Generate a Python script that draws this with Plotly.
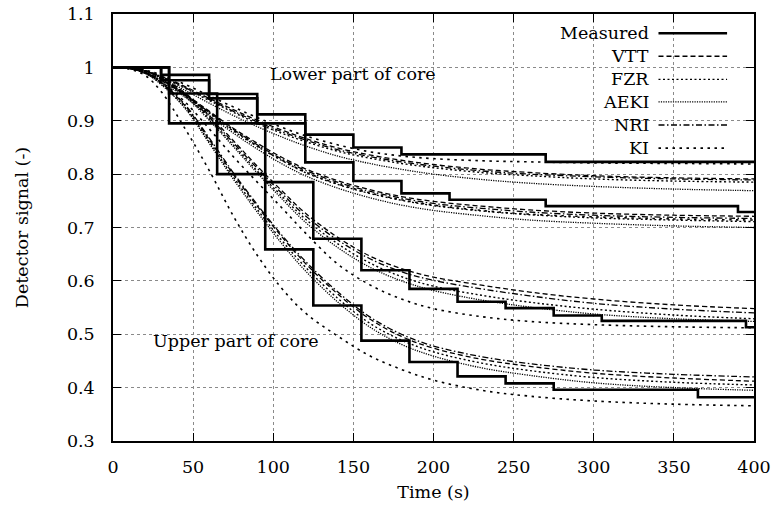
import plotly.graph_objects as go

# ---------------- data ----------------
# measured staircases (step start times, held values)
L1_t = [0, 30, 60, 90, 120, 150, 180, 270, 400]
L1_v = [1.0, 0.986, 0.95, 0.912, 0.874, 0.85, 0.837, 0.823, 0.823]
L2_t = [0, 30, 60, 90, 120, 150, 180, 210, 270, 390, 400]
L2_v = [1.0, 0.976, 0.942, 0.895, 0.822, 0.787, 0.764, 0.752, 0.74, 0.729, 0.729]
U1_t = [0, 35, 65, 95, 125, 155, 185, 215, 245, 275, 365, 400]
U1_v = [1.0, 0.895, 0.80, 0.659, 0.554, 0.488, 0.448, 0.421, 0.408, 0.396, 0.382, 0.382]
U2_t = [0, 35, 65, 95, 125, 155, 185, 215, 245, 275, 305, 395, 400]
U2_v = [1.0, 0.951, 0.895, 0.785, 0.679, 0.62, 0.585, 0.561, 0.549, 0.535, 0.525, 0.513, 0.513]

# calculated curves, sampled at these times
T = [0, 10, 20, 30, 45, 60, 75, 90, 105, 120, 140, 160, 180, 200, 230, 260, 300, 350, 400]

VTT_L1 = [1, .999, .994, .984, .964, .942, .921, .901, .883, .867, .849, .836, .826, .818, .809, .803, .797, .793, .791]
NRI_L1 = [1, .999, .993, .983, .962, .940, .918, .898, .880, .864, .846, .833, .823, .815, .806, .800, .795, .791, .789]
FZR_L1 = [1, .999, .993, .982, .961, .938, .916, .895, .877, .861, .843, .830, .820, .812, .803, .797, .791, .787, .785]
AEKI_L1 = [1, .999, .992, .980, .957, .933, .910, .889, .870, .853, .834, .820, .809, .800, .790, .783, .777, .772, .769]
KI_L1 = [1, .999, .995, .986, .968, .947, .926, .906, .888, .872, .855, .842, .834, .829, .825, .823, .821, .820, .819]

VTT_L2 = [1, .999, .991, .977, .950, .918, .886, .858, .832, .810, .788, .771, .758, .749, .740, .733, .727, .723, .721]
NRI_L2 = [1, .999, .990, .976, .948, .916, .884, .855, .829, .807, .785, .768, .755, .745, .736, .729, .723, .719, .717]
FZR_L2 = [1, .999, .990, .975, .947, .914, .881, .852, .826, .803, .781, .764, .751, .741, .731, .724, .718, .714, .711]
AEKI_L2 = [1, .999, .989, .973, .944, .910, .877, .847, .820, .797, .774, .756, .742, .732, .722, .714, .708, .703, .700]
KI_L2 = [1, .999, .991, .977, .949, .916, .883, .853, .827, .804, .782, .765, .752, .742, .732, .725, .720, .716, .714]

VTT_U2 = [1, .999, .994, .982, .952, .910, .863, .815, .770, .727, .682, .647, .623, .607, .592, .579, .566, .555, .548]
NRI_U2 = [1, .999, .994, .981, .950, .907, .859, .811, .765, .722, .677, .642, .617, .601, .585, .572, .558, .547, .540]
FZR_U2 = [1, .999, .993, .980, .948, .904, .855, .806, .760, .716, .670, .634, .608, .590, .573, .560, .547, .536, .529]
AEKI_U2 = [1, .999, .993, .979, .946, .901, .852, .802, .755, .710, .663, .626, .600, .582, .564, .551, .538, .529, .524]
KI_U2 = [1, .998, .990, .973, .935, .885, .833, .785, .738, .690, .632, .593, .566, .548, .533, .524, .518, .514, .512]

NRI_U1 = [1, .998, .990, .972, .930, .868, .803, .743, .687, .637, .580, .533, .500, .478, .458, .445, .433, .425, .420]
VTT_U1 = [1, .998, .990, .971, .928, .865, .800, .740, .684, .633, .576, .529, .496, .474, .453, .440, .427, .418, .412]
FZR_U1 = [1, .998, .989, .969, .925, .861, .795, .734, .677, .626, .568, .521, .489, .467, .446, .432, .419, .410, .405]
AEKI_U1 = [1, .998, .989, .968, .923, .858, .791, .729, .671, .619, .561, .514, .481, .459, .437, .423, .409, .400, .395]
KI_U1 = [1, .997, .985, .955, .885, .807, .722, .648, .587, .540, .497, .460, .434, .414, .395, .384, .375, .369, .366]

legend_names = ["Measured", "VTT", "FZR", "AEKI", "NRI", "KI"]

# ---------------- styles ----------------
FONT = "DejaVu Serif"
FS = 17.5
dashes = {
    "VTT": "5px,3px",
    "FZR": "2px,2.5px",
    "AEKI": "1.2px,1.2px",
    "NRI": "6px,2.5px,1.5px,2.5px",
    "KI": "2.5px,4.5px",
}
widths = {"VTT": 1.3, "FZR": 1.4, "AEKI": 1.3, "NRI": 1.3, "KI": 1.6}

fig = go.Figure()

sims = {
    "VTT": [VTT_L1, VTT_L2, VTT_U1, VTT_U2],
    "FZR": [FZR_L1, FZR_L2, FZR_U1, FZR_U2],
    "AEKI": [AEKI_L1, AEKI_L2, AEKI_U1, AEKI_U2],
    "NRI": [NRI_L1, NRI_L2, NRI_U1, NRI_U2],
    "KI": [KI_L1, KI_L2, KI_U1, KI_U2],
}
for code, series in sims.items():
    for s in series:
        fig.add_trace(go.Scatter(
            x=T, y=s, mode="lines", line_shape="spline",
            line=dict(color="black", width=widths[code], dash=dashes[code]),
            showlegend=False, hoverinfo="skip"))

for tt, vv in [(L1_t, L1_v), (L2_t, L2_v), (U1_t, U1_v), (U2_t, U2_v)]:
    fig.add_trace(go.Scatter(
        x=tt, y=vv, mode="lines", line_shape="hv",
        line=dict(color="black", width=2.6),
        showlegend=False, hoverinfo="skip"))

# white legend area covering grid lines
fig.add_shape(type="rect", xref="paper", yref="paper", x0=0.675, x1=1.0, y0=0.665, y1=1.0,
              fillcolor="white", line=dict(width=0), layer="between")

# manual legend: text right-aligned, sample line on the right
leg_y = [0.955, 0.901, 0.847, 0.794, 0.740, 0.686]
for name, yy in zip(legend_names, leg_y):
    fig.add_annotation(x=0.839, y=yy, xref="paper", yref="paper", text=name,
                       showarrow=False, xanchor="right", yanchor="middle",
                       font=dict(family=FONT, size=FS, color="black"))
    if name == "Measured":
        ln = dict(color="black", width=2.6)
    else:
        ln = dict(color="black", width=widths[name], dash=dashes[name])
    fig.add_shape(type="line", xref="paper", yref="paper", x0=0.851, x1=0.958,
                  y0=yy, y1=yy, line=ln)

fig.add_annotation(x=96.5, y=0.988, text="Lower part of core", showarrow=False,
                   xanchor="left", yanchor="middle", font=dict(family=FONT, size=FS, color="black"))
fig.add_annotation(x=23.5, y=0.487, text="Upper part of core", showarrow=False,
                   xanchor="left", yanchor="middle", font=dict(family=FONT, size=FS, color="black"))

axis_common = dict(
    showline=True, linecolor="black", linewidth=1.5, mirror="ticks",
    ticks="inside", ticklen=8, tickcolor="black", tickwidth=1,
    showgrid=True, gridcolor="#8a8a8a", gridwidth=1, griddash="dot",
    zeroline=False, tickfont=dict(family=FONT, size=FS, color="black"),
)
fig.update_xaxes(range=[0, 400], tick0=0, dtick=50, ticklabelstandoff=9,
                 title=dict(text="Time (s)", font=dict(family=FONT, size=FS, color="black"), standoff=10),
                 **axis_common)
fig.update_yaxes(range=[0.3, 1.1], tick0=0.3, dtick=0.1, ticklabelstandoff=13,
                 title=dict(text="Detector signal (-)", font=dict(family=FONT, size=FS, color="black"), standoff=34),
                 **axis_common)

fig.update_layout(
    width=772, height=509,
    margin=dict(l=113, r=18, t=14, b=68, autoexpand=False),
    plot_bgcolor="white", paper_bgcolor="white",
    showlegend=False,
    font=dict(family=FONT),
)

fig.write_html("out.html")
